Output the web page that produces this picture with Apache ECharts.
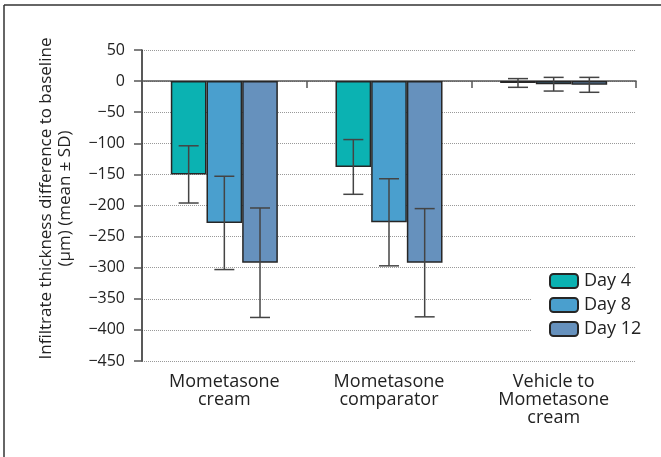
<!DOCTYPE html>
<html>
<head>
<meta charset="utf-8">
<script src="https://cdn.jsdelivr.net/npm/echarts@6/dist/echarts.min.js"></script>
<style>
  html, body { margin: 0; padding: 0; background: #fff; }
  #chart { width: 661px; height: 457px; }
</style>
</head>
<body>
<div id="chart"></div>
<script>
// categories and values
var categories = ['Mometasone\ncream', 'Mometasone\ncomparator', 'Vehicle to\nMometasone\ncream'];
var seriesNames = ['Day 4', 'Day 8', 'Day 12'];
var day4Mean = [-150, -138, -3];
var day4Sd = [46, 44, 7];
var day8Mean = [-228, -227, -5];
var day8Sd = [75, 70, 11];
var day12Mean = [-292, -292, -6];
var day12Sd = [88, 87, 12];
var yTicks = [50, 0, -50, -100, -150, -200, -250, -300, -350, -400, -450];

var colors = ['#0bb2b2', '#4a9fce', '#6691bd'];
var fontFam = '"Open Sans", "Noto Sans", sans-serif';
var catGap = 0.35;

var means = [day4Mean, day8Mean, day12Mean];
var sds = [day4Sd, day8Sd, day12Sd];

/** 误差线数据 [index, low, high] */
function errData(m, s) {
    var out = [];
    for (var i = 0; i < m.length; i++) {
        out.push([i, m[i] - s[i], m[i] + s[i]]);
    }
    return out;
}

function errRender(slot) {
    return function (params, api) {
        var idx = api.value(0);
        var lo = api.coord([idx, api.value(1)]);
        var hi = api.coord([idx, api.value(2)]);
        var cw = api.size([1, 0])[0];
        var bw = cw * (1 - catGap) / 3;
        var x = lo[0] + (slot - 1) * bw;
        var cap = 10;
        var st = { stroke: '#444', lineWidth: 1.5 };
        return {
            type: 'group',
            children: [
                { type: 'line', shape: { x1: x, y1: lo[1], x2: x, y2: hi[1] }, style: st },
                { type: 'line', shape: { x1: x - cap, y1: lo[1], x2: x + cap, y2: lo[1] }, style: st },
                { type: 'line', shape: { x1: x - cap, y1: hi[1], x2: x + cap, y2: hi[1] }, style: st }
            ]
        };
    };
}

var series = [];
for (var k = 0; k < 3; k++) {
    series.push({
        name: seriesNames[k],
        type: 'bar',
        xAxisIndex: 0,
        data: means[k],
        barGap: '0%',
        barCategoryGap: (catGap * 100) + '%',
        itemStyle: { color: colors[k], borderColor: '#262626', borderWidth: 1.5 },
        z: 2
    });
}
for (var k = 0; k < 3; k++) {
    series.push({
        type: 'custom',
        xAxisIndex: 0,
        data: errData(means[k], sds[k]),
        encode: { x: 0, y: [1, 2] },
        renderItem: errRender(k),
        z: 3,
        silent: true
    });
}

var myChart = echarts.init(document.getElementById('chart'), null, { renderer: 'canvas' });
var option = {
    animation: false,
    backgroundColor: '#fff',
    textStyle: { fontFamily: fontFam },
    grid: { left: 142, right: 25, top: 50, bottom: 96 },
    legend: {
        data: seriesNames,
        orient: 'vertical',
        left: 531,
        top: 268,
        padding: [4, 12, 4, 18],
        backgroundColor: '#fff',
        itemWidth: 28,
        itemHeight: 14,
        itemGap: 6,
        textStyle: { fontSize: 18, color: '#222', fontFamily: fontFam, padding: [0, 0, 0, 1] }
    },
    xAxis: [{
        type: 'category',
        data: categories,
        position: 'bottom',
        axisLine: { show: false, onZero: false },
        axisTick: { show: false },
        axisLabel: { fontSize: 18, lineHeight: 18, margin: 12, color: '#222', fontFamily: fontFam }
    }, {
        type: 'category',
        data: categories,
        position: 'top',
        axisLine: { show: true, onZero: true, lineStyle: { color: '#555', width: 1.5 } },
        axisTick: { show: true, inside: true, length: 7, lineStyle: { color: '#555', width: 1.5 } },
        axisLabel: { show: false },
        splitLine: { show: false }
    }],
    yAxis: {
        type: 'value',
        min: yTicks[yTicks.length - 1],
        max: yTicks[0],
        interval: yTicks[0] - yTicks[1],
        name: 'Infiltrate thickness difference to baseline\n(µm) (mean ± SD)',
        nameLocation: 'middle',
        nameRotate: 90,
        nameGap: 67,
        nameTextStyle: { fontSize: 17, lineHeight: 19, color: '#222', fontFamily: fontFam, padding: [0, 0, 0, 14] },
        axisLine: { show: true, lineStyle: { color: '#222', width: 1.5 } },
        axisTick: { show: true, length: 8, lineStyle: { color: '#555', width: 1.5 } },
        axisLabel: {
            fontSize: 16, color: '#222', margin: 17, fontFamily: fontFam,
            formatter: function (v) { return String(v).replace('-', '\u2212'); }
        },
        splitLine: { show: true, lineStyle: { color: '#999', type: 'dotted', width: 1 } }
    },
    graphic: [
        { type: 'line', shape: { x1: 4, y1: 5, x2: 661, y2: 5 }, style: { stroke: '#333', lineWidth: 1.5 } },
        { type: 'line', shape: { x1: 4, y1: 5, x2: 4, y2: 457 }, style: { stroke: '#333', lineWidth: 1.5 } }
    ],
    series: series
};
myChart.setOption(option);
</script>
</body>
</html>
